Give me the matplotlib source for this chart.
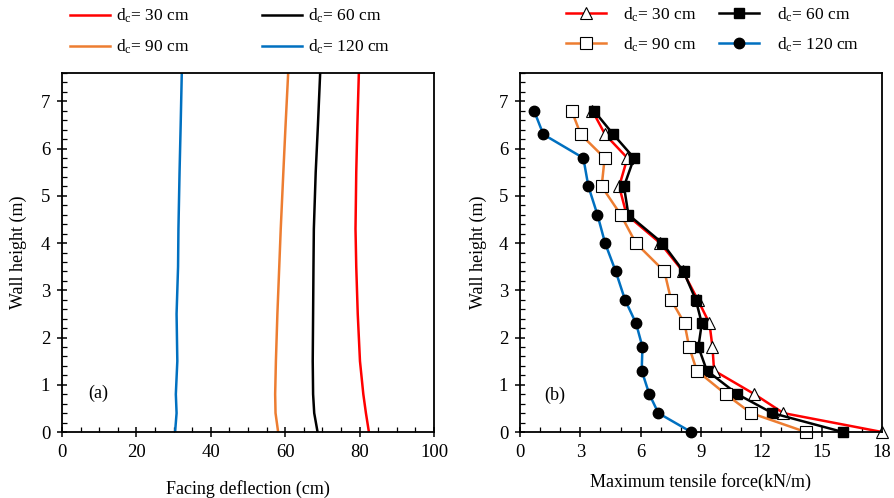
import matplotlib
matplotlib.use("Agg")
import matplotlib.pyplot as plt
from matplotlib.ticker import MultipleLocator

plt.rcParams['font.family'] = ['Liberation Serif', 'DejaVu Serif']
plt.rcParams['mathtext.fontset'] = 'custom'
plt.rcParams['mathtext.rm'] = 'Liberation Serif'
plt.rcParams['mathtext.it'] = 'Liberation Serif'

labels = [r'd$_\mathrm{c}$= 30 cm', r'd$_\mathrm{c}$= 60 cm',
          r'd$_\mathrm{c}$= 90 cm', r'd$_\mathrm{c}$= 120 cm']
colors = ['#FF0000', '#000000', '#ED7D31', '#0070C0']

# Panel (a): facing deflection profiles
height_a = [0.0, 0.4, 0.8, 1.5, 2.5, 3.5, 4.3, 5.5, 6.5, 7.6]
defl_30 = [82.5, 81.7, 81.0, 80.1, 79.5, 79.1, 78.9, 79.1, 79.4, 79.8]
defl_60 = [68.7, 67.8, 67.5, 67.4, 67.5, 67.6, 67.7, 68.2, 68.8, 69.4]
defl_90 = [58.1, 57.4, 57.3, 57.5, 57.9, 58.4, 58.8, 59.5, 60.1, 60.8]
defl_120 = [30.4, 30.8, 30.6, 31.0, 30.8, 31.2, 31.3, 31.6, 31.9, 32.2]

# Panel (b): maximum tensile force
height_b = [6.8, 6.3, 5.8, 5.2, 4.6, 4.0, 3.4, 2.8, 2.3, 1.8, 1.3, 0.8, 0.4, 0.0]
force_30 = [3.6, 4.23, 5.34, 4.93, 5.3, 6.97, 8.1, 8.84, 9.42, 9.57, 9.65, 11.66, 13.1, 18.0]
force_60 = [3.68, 4.64, 5.67, 5.17, 5.39, 7.08, 8.13, 8.74, 9.04, 8.87, 9.29, 10.81, 12.55, 16.05]
force_90 = [2.57, 3.02, 4.21, 4.06, 5.01, 5.76, 7.18, 7.51, 8.18, 8.41, 8.79, 10.23, 11.49, 14.21]
force_120 = [0.70, 1.16, 3.15, 3.4, 3.85, 4.23, 4.76, 5.22, 5.77, 6.09, 6.05, 6.43, 6.88, 8.51]

fig = plt.figure(figsize=(8.94, 4.98), dpi=100)
axA = fig.add_axes([62/894, 66/498, 372/894, 359/498])
axB = fig.add_axes([520/894, 66/498, 362/894, 359/498])

for d, c, l in zip([defl_30, defl_60, defl_90, defl_120], colors, labels):
    axA.plot(d, height_a, color=c, lw=1.8, label=l)

axA.set_xlim(0, 100)
axA.set_ylim(0, 7.6)
axA.xaxis.set_major_locator(MultipleLocator(20))
axA.xaxis.set_minor_locator(MultipleLocator(5))
axA.yaxis.set_major_locator(MultipleLocator(1))
axA.yaxis.set_minor_locator(MultipleLocator(0.2))
axA.set_xlabel('Facing deflection (cm)', fontsize=13)
axA.set_ylabel('Wall height (m)', fontsize=13)
axA.xaxis.set_label_coords(0.5, -0.135)
axA.yaxis.set_label_coords(-0.094, 0.5)
axA.text(9.7, 0.82, '(a)', fontsize=13, va='center', ha='center')

mk = [dict(marker='^', ms=8, mfc='white', mec='black', mew=0.8),
      dict(marker='s', ms=6.5, mfc='black', mec='black'),
      dict(marker='s', ms=8, mfc='white', mec='black', mew=0.8),
      dict(marker='o', ms=7.5, mfc='black', mec='black')]
for f, c, l, m in zip([force_30, force_60, force_90, force_120], colors, labels, mk):
    axB.plot(f, height_b, color=c, lw=1.8, label=l, clip_on=False, **m)

axB.set_xlim(0, 18)
axB.set_ylim(0, 7.6)
axB.xaxis.set_major_locator(MultipleLocator(3))
axB.xaxis.set_minor_locator(MultipleLocator(1))
axB.yaxis.set_major_locator(MultipleLocator(1))
axB.yaxis.set_minor_locator(MultipleLocator(0.2))
axB.set_xlabel('Maximum tensile force(kN/m)', fontsize=13)
axB.set_ylabel('Wall height (m)', fontsize=13)
axB.xaxis.set_label_coords(0.5, -0.113)
axB.yaxis.set_label_coords(-0.092, 0.5)
axB.text(1.74, 0.78, '(b)', fontsize=13, va='center', ha='center')

for ax in (axA, axB):
    for s in ax.spines.values():
        s.set_linewidth(1.3)
    ax.tick_params(which='major', direction='inout', length=7, width=1.1,
                   labelsize=13.5, pad=5)
    ax.tick_params(which='minor', direction='in', length=3.5, width=0.9)

order = [0, 2, 1, 3]
hA, lA = axA.get_legend_handles_labels()
fig.legend([hA[i] for i in order], [lA[i] for i in order],
           ncol=2, frameon=False, fontsize=12.5,
           loc='upper left', bbox_to_anchor=(70/894, 0.986),
           borderpad=0, borderaxespad=0,
           handlelength=2.3, handletextpad=0.35, columnspacing=4.2,
           labelspacing=0.72)
hB, lB = axB.get_legend_handles_labels()
fig.legend([hB[i] for i in order], [lB[i] for i in order],
           ncol=2, frameon=False, fontsize=12.5,
           loc='upper left', bbox_to_anchor=(566/894, 0.989),
           borderpad=0, borderaxespad=0,
           handlelength=2.3, handletextpad=1.0, columnspacing=1.3,
           labelspacing=0.66)

fig.savefig('out.png', dpi=100)
